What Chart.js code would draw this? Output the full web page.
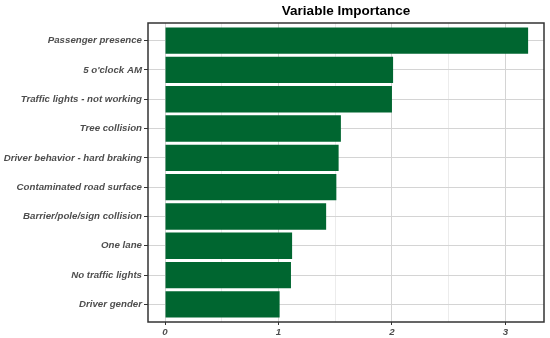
<!DOCTYPE html>
<html>
<head>
<meta charset="utf-8">
<script src="https://cdn.jsdelivr.net/npm/chart.js@4"></script>
<style>
  html, body { margin: 0; padding: 0; background: #fff; }
  canvas { display: block; }
</style>
</head>
<body>
<canvas id="importanceChart" width="550" height="338"></canvas>
<script>
const categories = [
  "Passenger presence",
  "5 o'clock AM",
  "Traffic lights - not working",
  "Tree collision",
  "Driver behavior - hard braking",
  "Contaminated road surface",
  "Barrier/pole/sign collision",
  "One lane",
  "No traffic lights",
  "Driver gender",
];
const importance = [3.2, 2.01, 2.0, 1.55, 1.53, 1.51, 1.42, 1.12, 1.11, 1.01];
const xTicks = [0, 0.5, 1, 1.5, 2, 2.5, 3];

const labelFont = { family: "'Liberation Sans', Arial, sans-serif", size: 9.7, weight: "bold", style: "italic" };

// panel border + title centred over the plot area
const panelPlugin = {
  id: "panel",
  afterDraw(chart) {
    const { ctx, chartArea: a } = chart;
    ctx.save();
    ctx.strokeStyle = "#333";
    ctx.lineWidth = 1.5;
    ctx.strokeRect(a.left, a.top, a.right - a.left, a.bottom - a.top);
    ctx.fillStyle = "#000";
    ctx.font = "bold 13.5px 'Liberation Sans', Arial, sans-serif";
    ctx.textAlign = "center";
    ctx.textBaseline = "middle";
    ctx.fillText("Variable Importance", (a.left + a.right) / 2, 11);
    ctx.restore();
  },
};

new Chart(document.getElementById("importanceChart").getContext("2d"), {
  type: "bar",
  data: {
    datasets: [
      {
        data: importance.map((v, i) => ({ x: v, y: i })),
        backgroundColor: "#006630",
        borderWidth: 0,
        barPercentage: 0.9,
        categoryPercentage: 1,
      },
    ],
  },
  options: {
    indexAxis: "y",
    responsive: false,
    animation: false,
    layout: { padding: { top: 23, right: 6, left: 0, bottom: 0 } },
    plugins: { legend: { display: false }, tooltip: { enabled: false } },
    scales: {
      x: {
        type: "linear",
        min: -0.15,
        max: 3.34,
        afterBuildTicks: (s) => { s.ticks = xTicks.map((v) => ({ value: v })); },
        afterFit: (s) => { s.height = 16; },
        border: { display: false },
        grid: {
          color: (c) => (Number.isInteger(c.tick && c.tick.value) ? "#d4d4d4" : "#ececec"),
          tickColor: (c) => (Number.isInteger(c.tick && c.tick.value) ? "#333" : "rgba(0,0,0,0)"),
          tickLength: 3,
          lineWidth: 1,
        },
        ticks: {
          font: labelFont,
          color: "#4d4d4d",
          padding: 2,
          maxRotation: 0,
          callback: (v) => (Number.isInteger(v) ? v : ""),
        },
      },
      y: {
        type: "linear",
        min: -0.6,
        max: 9.6,
        reverse: true,
        offset: false,
        afterBuildTicks: (s) => { s.ticks = categories.map((_, i) => ({ value: i })); },
        afterFit: (s) => { s.width = 148; },
        border: { display: false },
        grid: { offset: false, color: "#d4d4d4", tickColor: "#333", tickLength: 4, lineWidth: 1 },
        ticks: {
          font: labelFont,
          color: "#4d4d4d",
          padding: 2,
          callback: (v) => categories[v] || "",
        },
      },
    },
  },
  plugins: [panelPlugin],
});
</script>
</body>
</html>
